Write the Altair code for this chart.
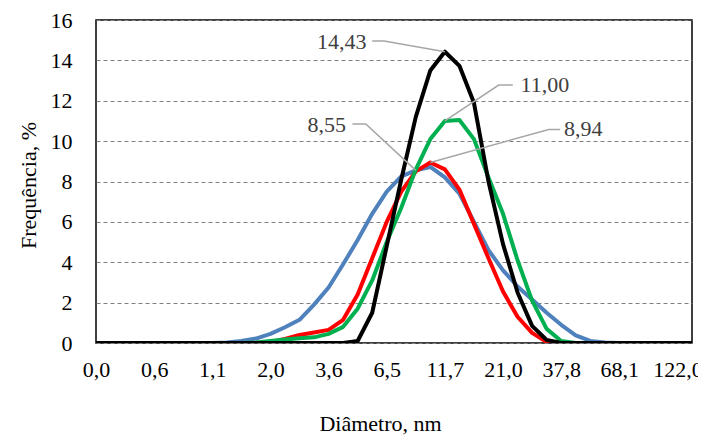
import altair as alt
import pandas as pd

# Diameter bins (nm), category axis; every 4th one is labelled
diameters = ["0,0", "0,40", "0,46", "0,54", "0,6", "0,72", "0,83", "0,96", "1,1", "1,29",
             "1,50", "1,74", "2,0", "2,33", "2,70", "3,12", "3,6", "4,19", "4,85", "5,62",
             "6,5", "7,53", "8,72", "10,1", "11,7", "13,5", "15,7", "18,2", "21,0", "24,4",
             "28,2", "32,7", "37,8", "43,8", "50,8", "58,8", "68,1", "78,8", "91,3", "105,7",
             "122,0", "141,8"]
tick_step = 4
tick_labels = diameters[::tick_step]

# Frequency (%) per bin for each sample
blue = [0] * 9 + [0.02, 0.1, 0.22, 0.45, 0.78, 1.15, 1.9, 2.75, 3.9, 5.1, 6.4, 7.5, 8.25, 8.55,
                  8.72, 8.2, 7.4, 6.0, 4.6, 3.6, 2.8, 2.15, 1.5, 0.9, 0.38, 0.1, 0.02] + [0] * 6
red = [0] * 12 + [0.05, 0.2, 0.4, 0.52, 0.65, 1.15, 2.4, 4.2, 6.0, 7.5, 8.5, 8.94, 8.6, 7.6,
                  5.9, 4.2, 2.55, 1.3, 0.5, 0.05] + [0] * 10
green = [0] * 11 + [0.02, 0.1, 0.17, 0.23, 0.28, 0.45, 0.8, 1.7, 3.1, 5.0, 6.7, 8.6, 10.1, 11.0,
                    11.05, 10.1, 8.2, 6.4, 4.1, 2.1, 0.7, 0.1] + [0] * 9
black = [0] * 18 + [0.1, 1.5, 4.8, 8.1, 11.2, 13.5, 14.43, 13.73, 11.9, 8.0, 4.9, 2.5, 0.85,
                    0.15] + [0] * 10

series_values = [blue, red, green, black]
series_colors = ["#4f81bd", "#ff0000", "#00b050", "#000000"]

# Data labels with leader lines (in data units)
ann_text = ["14,43", "11,00", "8,55", "8,94"]
ann_point_x = [24, 24, 22, 23]
ann_point_y = [14.43, 11.00, 8.55, 8.94]
ann_elbow_x = [19.82, 27.7, 18.56, 31.14]
ann_elbow_y = [14.96, 12.78, 10.85, 10.58]
ann_end_x = [19.0, 28.67, 17.64, 31.93]
ann_text_x = [18.6, 29.2, 17.2, 32.2]
ann_text_y = [14.93, 12.78, 10.80, 10.60]
ann_align = ["right", "left", "right", "left"]

FONT = "Times New Roman, Liberation Serif, serif"
n = len(diameters)
idx = list(range(n))

label_expr = "[" + ",".join("'" + t + "'" for t in tick_labels) + "][round(datum.value/%d)]" % tick_step

x_axis = alt.Axis(values=list(range(0, n, tick_step)), labelExpr=label_expr, ticks=False, tickSize=0,
                  domain=False, grid=False, labelPadding=16, labelFlush=False, labelOverlap=False,
                  title="Diâmetro, nm", titleX=284, titleY=87, titleAlign="center",
                  titleBaseline="alphabetic")
y_axis = alt.Axis(values=list(range(0, 17, 2)), ticks=False, tickSize=0, domain=False, grid=True,
                  gridDash=[4, 3], gridColor="#808080", gridWidth=1, labelPadding=24,
                  title="Frequência, %", titleAngle=270, titleX=-68, titleY=165,
                  titleAlign="center", titleBaseline="middle")

X = alt.X("x:Q", scale=alt.Scale(domain=[0, n - 1], nice=False, zero=False), axis=x_axis)
Y = alt.Y("y:Q", scale=alt.Scale(domain=[0, 16], nice=False, zero=True), axis=y_axis)

layers = []
for vals, col in zip(series_values, series_colors):
    df = pd.DataFrame({"x": idx, "y": vals})
    layers.append(alt.Chart(df).mark_line(color=col, strokeWidth=4, strokeJoin="round",
                                          clip=True).encode(x=X, y=Y))

# leader lines
rows = []
for k in range(len(ann_text)):
    rows.append({"x": ann_point_x[k], "y": ann_point_y[k], "k": k, "o": 0})
    rows.append({"x": ann_elbow_x[k], "y": ann_elbow_y[k], "k": k, "o": 1})
    rows.append({"x": ann_end_x[k], "y": ann_elbow_y[k], "k": k, "o": 2})
lead_df = pd.DataFrame(rows)
layers.append(alt.Chart(lead_df).mark_line(color="#a6a6a6", strokeWidth=1.5).encode(
    x=X, y=Y, detail="k:N", order="o:Q"))

text_df = pd.DataFrame({"x": ann_text_x, "y": ann_text_y, "label": ann_text, "align": ann_align})
for al in ["right", "left"]:
    layers.append(alt.Chart(text_df[text_df["align"] == al]).mark_text(
        align=al, baseline="middle", font=FONT, fontSize=22, color="#404040").encode(
        x=X, y=Y, text="label:N"))

chart = alt.layer(*layers).properties(
    width=596, height=323,
    padding={"left": 88, "top": 12, "right": 6, "bottom": 92},
    autosize=alt.AutoSizeParams(type="none"),
).configure_view(stroke="#000000", strokeWidth=1.5).configure_axis(
    labelFont=FONT, titleFont=FONT, labelFontSize=22, titleFontSize=22,
    labelColor="#000000", titleColor="#000000", titleFontWeight="normal")

chart.save("out.html", embed_options={"renderer": "svg", "actions": False})
